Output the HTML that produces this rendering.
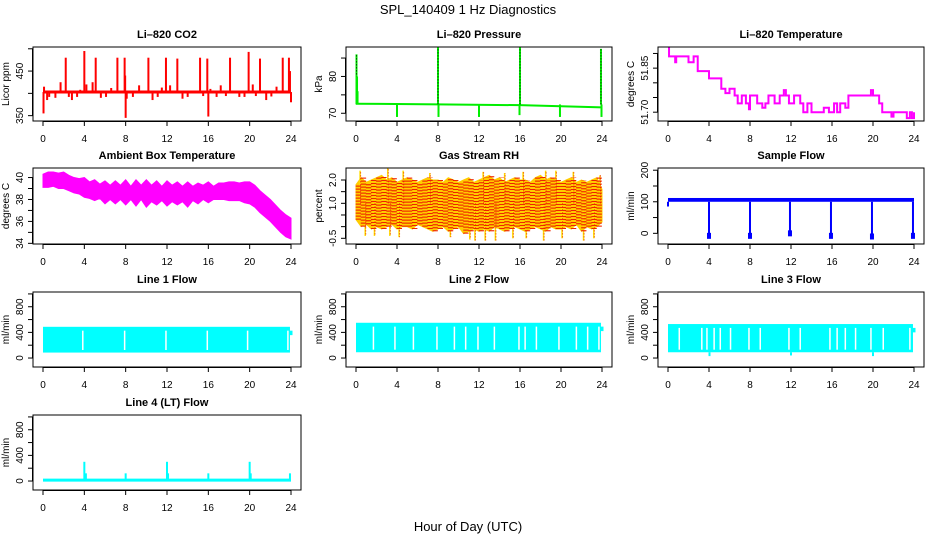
<!DOCTYPE html>
<html><head><meta charset="utf-8"><style>
body{margin:0;background:#fff}
svg{display:block;font-family:"Liberation Sans",sans-serif}
</style></head><body>
<svg id="c" width="936" height="540" viewBox="0 0 936 540" xmlns="http://www.w3.org/2000/svg">
<text x="468" y="14" text-anchor="middle" font-size="13">SPL_140409  1 Hz Diagnostics</text>
<text x="468" y="531" text-anchor="middle" font-size="13">Hour of Day (UTC)</text>
</svg>
<script>
const xTicks=[0,4,8,12,16,20,24];
// CO2
const co2Base=403;
const co2Spikes=[[0.05,355],[0.1,415],[0.4,385],[0.6,392],[1.2,390],[1.7,425],[2.2,480],[2.5,392],[2.8,385],[3.3,392],[3.6,408],[4.0,495],[4.2,420],[4.4,400],[4.8,425],[5.1,480],[5.6,390],[6.1,392],[6.6,412],[7.2,480],[7.5,404],[7.9,480],[7.95,440],[8.0,345],[8.1,388],[8.7,392],[9.3,418],[9.7,405],[10.2,480],[10.6,385],[11.1,392],[11.5,413],[11.9,480],[12.0,402],[12.3,418],[12.8,400],[13.0,478],[13.5,388],[14.0,392],[14.5,405],[15.2,480],[15.5,394],[15.9,478],[16.0,348],[16.2,410],[16.8,392],[17.2,418],[17.7,394],[18.1,480],[18.5,405],[19.0,392],[19.5,392],[19.9,493],[20.3,420],[20.6,394],[21.0,478],[21.6,385],[22.1,393],[22.6,415],[23.0,400],[23.2,480],[23.5,403],[23.8,480],[23.9,450],[24.0,380]];
// Pressure
const presBase=[[0,72.6],[8,72.4],[16,72.2],[24,71.6]];
const presSpikes=[[0.05,86],[0.1,80],[0.15,76],[4.0,69],[8.0,88],[8.05,69],[12.0,69],[15.95,69.5],[16.0,88],[19.9,69],[23.9,87.5],[23.95,69]];
// Li-820 temperature steps
const tempSteps=[[0,51.92],[0.1,51.89],[0.7,51.87],[0.8,51.89],[2.0,51.87],[2.5,51.89],[2.9,51.84],[4.0,51.815],[5.2,51.78],[5.6,51.765],[6.0,51.78],[6.5,51.757],[6.8,51.73],[7.2,51.757],[7.6,51.73],[7.9,51.71],[8.0,51.757],[8.7,51.73],[9.2,51.715],[9.5,51.73],[9.8,51.757],[10.4,51.73],[10.9,51.757],[11.3,51.775],[11.5,51.757],[11.8,51.73],[12.3,51.757],[12.9,51.73],[13.2,51.70],[13.6,51.73],[14.0,51.70],[15.2,51.715],[15.7,51.70],[16.2,51.73],[16.5,51.70],[16.8,51.73],[17.3,51.715],[17.6,51.757],[19.8,51.775],[20.0,51.757],[20.6,51.73],[20.9,51.70],[21.8,51.685],[22.0,51.70],[23.3,51.68],[23.6,51.70],[23.8,51.68],[24,51.70]];
// Ambient box temperature envelope (0.5 h steps)
const ambHi=[40.3,40.5,40.5,40.4,40.5,40.2,40.0,39.9,40.0,39.6,39.8,39.4,39.7,39.3,39.7,39.3,39.8,39.2,39.8,39.3,39.8,39.3,39.7,39.2,39.7,39.3,39.6,39.2,39.6,39.2,39.5,39.3,39.6,39.2,39.5,39.5,39.6,39.6,39.5,39.6,39.6,39.3,38.8,38.4,38.0,37.5,37.0,36.6,36.3];
const ambLo=[39.1,39.1,39.2,39.0,39.0,38.8,38.6,38.5,38.2,38.1,37.9,38.1,37.6,38.0,37.6,38.0,37.5,38.0,37.4,38.0,37.3,37.8,37.5,37.9,37.4,37.8,37.5,37.8,37.3,37.9,37.6,38.0,37.7,38.0,38.0,38.0,37.9,37.9,37.9,37.7,37.6,37.3,36.8,36.4,36.0,35.5,35.0,34.6,34.4];
// RH
const rhHi=[1.8,2.1,1.9,2.0,2.1,2.2,2.0,2.1,1.9,2.0,2.1,2.0,1.9,2.0,2.1,2.0,2.0,1.9,2.1,2.0,1.9,2.0,2.1,1.9,2.0,2.1,2.2,2.0,2.1,1.9,2.0,2.1,2.0,2.0,1.9,2.1,2.2,2.0,2.1,2.0,1.9,2.0,2.1,1.9,2.0,1.9,2.0,2.1,1.6];
const rhLo=[0.3,0.0,0.1,-0.1,0.0,-0.1,0.0,0.1,-0.1,0.0,0.0,-0.1,0.1,0.0,-0.1,-0.2,-0.1,0.0,-0.2,-0.1,0.0,-0.3,-0.2,-0.1,-0.2,-0.1,-0.2,0.0,-0.1,-0.2,-0.1,0.0,-0.1,-0.2,-0.1,0.0,-0.1,-0.2,0.0,-0.1,-0.1,0.0,-0.1,0.1,-0.2,0.0,-0.1,0.0,0.2];
const rhSpikes=[[0.4,2.4],[0.9,-0.4],[1.8,-0.4],[3.1,2.5],[3.3,-0.4],[4.2,-0.45],[4.6,2.4],[7.2,2.3],[9.2,-0.45],[11.1,-0.55],[11.6,-0.6],[12.4,2.35],[12.6,-0.6],[13.6,-0.6],[14.5,2.3],[15.3,-0.5],[16.3,2.35],[16.6,-0.5],[18.3,-0.6],[18.5,2.4],[19.5,2.4],[20.1,-0.5],[21.2,2.35],[22.2,-0.6],[23.2,-0.5],[23.8,2.2]];
// Sample flow
const sfLo=100,sfHi=112;
const sfDips=[[4.0,-8],[8.0,-8],[11.9,0],[15.9,-8],[19.9,-10],[23.9,-8]];
// Line flows
const l1Hi=487,l1Lo=85,l1Gaps=[3.85,7.9,11.9,15.9,19.8,23.7];
const l2Hi=550,l2Lo=90,l2Gaps=[1.7,3.8,5.6,7.9,9.6,10.7,11.9,13.5,15.9,16.5,17.6,19.8,21.5,22.6,23.7];
const l3Hi=530,l3Lo=90,l3Gaps=[1.1,3.3,3.8,4.5,5.1,6.1,7.9,9.0,11.8,12.9,15.8,16.5,17.3,18.3,19.8,21.0,23.6];
const l3Dips=[[4.05,30],[12.0,40],[20.0,30]];
const l4Base=15;
const l4Spikes=[[4.0,300],[4.15,120],[8.0,120],[12.0,300],[12.1,120],[16.0,120],[20.0,300],[20.1,120],[23.9,120]];

const NS='http://www.w3.org/2000/svg',svg=document.getElementById('c');
function mk(tag,a,parent){const e=document.createElementNS(NS,tag);for(const k in a)e.setAttribute(k,a[k]);(parent||svg).appendChild(e);return e;}
const cols=[[33,301],[346,612],[658,924]],rows=[[47,121],[168,244],[292,367],[415,490]];
function panel(c,r,name,title,ylab,ymin,ymax,ticks,labels){
  const [x0,x1]=cols[c],[y0,y1]=rows[r];
  const g=mk('g',{});
  
  
  const P={g,x0,x1,y0,y1,
    xs:h=>x0+10+h/24*(x1-x0-20),
    ys:v=>y1-(v-ymin)/(ymax-ymin)*(y1-y0)};
  const clip=mk('clipPath',{id:'cl'+name},g);mk('rect',{x:x0,y:y0,width:x1-x0,height:y1-y0},clip);
  P.d=mk('g',{'clip-path':'url(#cl'+name+')'},g);
  
  
  const bx=mk('rect',{x:x0,y:y0,width:x1-x0,height:y1-y0,fill:'none',stroke:'#000','stroke-width':1},g);
  
  
  const t=mk('text',{x:(x0+x1)/2,y:y0-9,'text-anchor':'middle','font-size':11,'font-weight':'bold'},g);t.textContent=title;
  
  
  const xa=mk('g',{},g);
  
  
  mk('line',{x1:P.xs(0),x2:P.xs(24),y1:y1+0.5,y2:y1+0.5,stroke:'#000'},xa);
  xTicks.forEach(h=>{const x=P.xs(h);mk('line',{x1:x,x2:x,y1:y1,y2:y1+5,stroke:'#000'},xa);
    const l=mk('text',{x:x,y:y1+21,'text-anchor':'middle','font-size':10},xa);l.textContent=h;});
  const ya=mk('g',{},g);
  
  
  mk('line',{x1:x0-0.5,x2:x0-0.5,y1:P.ys(ticks[0]),y2:P.ys(ticks[ticks.length-1]),stroke:'#000'},ya);
  ticks.forEach(v=>{const y=P.ys(v);mk('line',{x1:x0-5,x2:x0,y1:y,y2:y,stroke:'#000'},ya);});
  labels.forEach(v=>{const y=P.ys(+v);const l=mk('text',{x:0,y:0,'text-anchor':'middle','font-size':10,transform:`translate(${x0-10},${y}) rotate(-90)`},ya);l.textContent=v;});
  const yl=mk('text',{x:0,y:0,'text-anchor':'middle','font-size':10,transform:`translate(${x0-24},${(y0+y1)/2}) rotate(-90)`},g);yl.textContent=ylab;
  
  
  return P;
}
function vl(P,h,a,b,col,w,extra){return mk('line',Object.assign({x1:P.xs(h),x2:P.xs(h),y1:P.ys(a),y2:P.ys(b),stroke:col,'stroke-width':w||1},extra||{}),P.d);}
function band(P,hs,lo,hi,col){let d='M'+hs.map((h,i)=>P.xs(h)+','+P.ys(hi[i])).join('L');for(let i=hs.length-1;i>=0;i--)d+='L'+P.xs(hs[i])+','+P.ys(lo[i]);mk('path',{d:d+'Z',fill:col,stroke:col},P.d);}

let P=panel(0,0,'co2','Li\u2013820 CO2','Licor ppm',338,504,[350,400,450,500],['350','450']);
mk('line',{x1:P.xs(0),x2:P.xs(24),y1:P.ys(co2Base),y2:P.ys(co2Base),stroke:'red','stroke-width':3},P.d);
co2Spikes.forEach(([h,v])=>vl(P,h,co2Base,v,'red',2));
P=panel(1,0,'pressure','Li\u2013820 Pressure','kPa',67.9,88.0,[70,75,80,85],['70','80']);
mk('polyline',{points:presBase.map(([h,v])=>P.xs(h)+','+P.ys(v)).join(' '),fill:'none',stroke:'#00ee00','stroke-width':2},P.d);
presSpikes.forEach(([h,v])=>{vl(P,h,72.4,v,'#00ee00',2);if(v>80)vl(P,h,72.4,v,'#000',1,{'stroke-dasharray':'1,2'});});
P=panel(2,0,'li820-temp','Li\u2013820 Temperature','degrees C',51.670,51.922,[51.70,51.75,51.80,51.85,51.90],['51.70','51.85']);
{let pts=[];tempSteps.forEach(([h,v],i)=>{if(i>0)pts.push(P.xs(h)+','+P.ys(tempSteps[i-1][1]));pts.push(P.xs(h)+','+P.ys(v));});
mk('polyline',{points:pts.join(' '),fill:'none',stroke:'#ff00ff','stroke-width':2},P.d);}
P=panel(0,1,'ambient-temp','Ambient Box Temperature','degrees C',33.94,40.87,[34,35,36,37,38,39,40],['34','36','38','40']);
band(P,ambHi.map((_,i)=>i*0.5),ambLo,ambHi,'#ff00ff');
P=panel(1,1,'gas-rh','Gas Stream RH','percent',-0.744,2.514,[-0.5,0,0.5,1.0,1.5,2.0],['-0.5','1.0','2.0']);
{const hs=rhHi.map((_,i)=>i*0.5);band(P,hs,rhLo,rhHi,'#ffcc00');
rhSpikes.forEach(([h,v])=>vl(P,h,1,v,'#ffdd00',1.5));
for(let i=0;i<hs.length-1;i++){for(let k=0;k<10;k++){const h=hs[i]+k*0.05;vl(P,h,rhLo[i],rhHi[i],'#ee2200',0.8,{'stroke-dasharray':'1,2'});}}
rhSpikes.forEach(([h,v])=>vl(P,h+0.05,1,v,'#ee2200',1,{'stroke-dasharray':'1,2'}));}
P=panel(2,1,'sample-flow','Sample Flow','ml/min',-33.8,207,[0,50,100,150,200],['0','100','200']);
mk('rect',{x:P.xs(0),y:P.ys(sfHi),width:P.xs(24)-P.xs(0),height:P.ys(sfLo)-P.ys(sfHi),fill:'#0000ff'},P.d);
vl(P,0,sfLo,85,'#0000ff',2);
sfDips.forEach(([h,v])=>{vl(P,h,sfLo,v,'#0000ff',2);mk('rect',{x:P.xs(h)-2,y:P.ys(v)-3,width:4,height:6,fill:'#0000ff'},P.d);});
function lineFlow(c,r,name,title,hi,lo,gaps,dips){
  const P=panel(c,r,name,title,'ml/min',-140,1030,[0,200,400,600,800,1000],['0','400','800']);
  mk('rect',{x:P.xs(0),y:P.ys(hi),width:P.xs(23.9)-P.xs(0),height:P.ys(lo)-P.ys(hi),fill:'#00ffff'},P.d);
  vl(P,24,hi-60,hi-130,'#00ffff',3);
  gaps.forEach(h=>vl(P,h,lo+40,hi-60,'#ffffff',1.5));
  (dips||[]).forEach(([h,v])=>vl(P,h,lo,v,'#00ffff',2));
  return P;
}
lineFlow(0,2,'line1-flow','Line 1 Flow',l1Hi,l1Lo,l1Gaps);
lineFlow(1,2,'line2-flow','Line 2 Flow',l2Hi,l2Lo,l2Gaps);
lineFlow(2,2,'line3-flow','Line 3 Flow',l3Hi,l3Lo,l3Gaps,l3Dips);
P=panel(0,3,'line4-flow','Line 4 (LT) Flow','ml/min',-140,1030,[0,200,400,600,800,1000],['0','400','800']);
mk('line',{x1:P.xs(0),x2:P.xs(24),y1:P.ys(l4Base),y2:P.ys(l4Base),stroke:'#00ffff','stroke-width':3},P.d);
l4Spikes.forEach(([h,v])=>vl(P,h,l4Base,v,'#00ffff',2));
</script>
</body></html>
